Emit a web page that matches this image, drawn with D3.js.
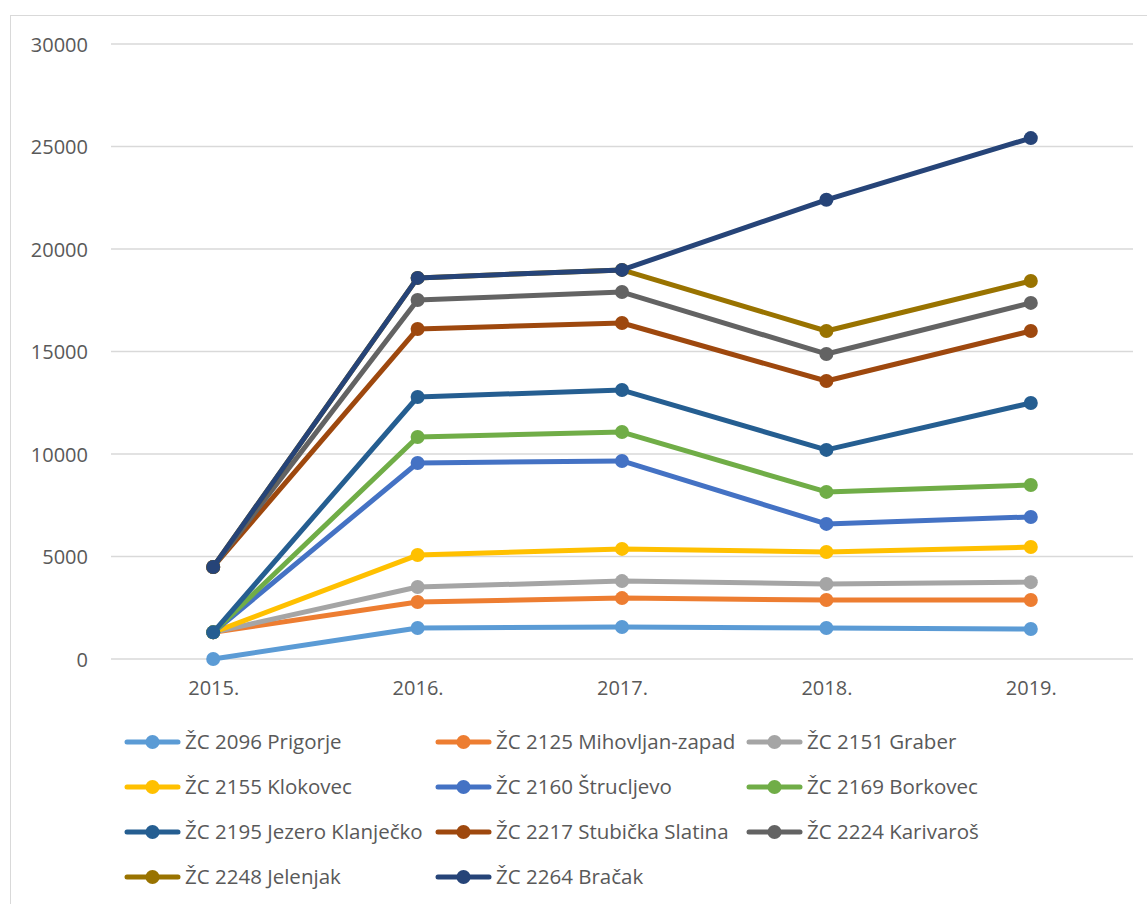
<!DOCTYPE html>
<html>
<head>
<meta charset="utf-8">
<script src="https://cdn.jsdelivr.net/npm/d3@7"></script>
<style>
	body { margin: 0; background: #fff; }
	svg text { font-family: "Open Sans", "Noto Sans", sans-serif; fill: #595959; }
</style>
</head>
<body>
<svg id="chart" width="1147" height="904"></svg>
<script>
const years = ['2015.', '2016.', '2017.', '2018.', '2019.'];
const yTicks = [0, 5000, 10000, 15000, 20000, 25000, 30000];
const seriesNames = [
	'ŽC 2096 Prigorje', 'ŽC 2125 Mihovljan-zapad', 'ŽC 2151 Graber',
	'ŽC 2155 Klokovec', 'ŽC 2160 Štrucljevo', 'ŽC 2169 Borkovec',
	'ŽC 2195 Jezero Klanječko', 'ŽC 2217 Stubička Slatina', 'ŽC 2224 Karivaroš',
	'ŽC 2248 Jelenjak', 'ŽC 2264 Bračak'
];
const seriesColors = [
	'#5B9BD5', '#ED7D31', '#A5A5A5', '#FFC000', '#4472C4', '#70AD47',
	'#255E91', '#9E480E', '#636363', '#997300', '#264478'
];
const prigorje = [0, 1510, 1560, 1510, 1460];
const mihovljan = [1300, 2780, 2970, 2880, 2880];
const graber = [1300, 3510, 3800, 3660, 3750];
const klokovec = [1300, 5070, 5370, 5220, 5460];
const strucljevo = [1300, 9560, 9660, 6590, 6930];
const borkovec = [1300, 10830, 11070, 8150, 8490];
const jezero = [1300, 12780, 13120, 10200, 12490];
const stubicka = [4490, 16100, 16390, 13560, 16000];
const karivaros = [4490, 17510, 17900, 14880, 17370];
const jelenjak = [4490, 18590, 18980, 16000, 18440];
const bracak = [4490, 18590, 18980, 22400, 25410];
const seriesValues = [prigorje, mihovljan, graber, klokovec, strucljevo, borkovec,
	jezero, stubicka, karivaros, jelenjak, bracak];

var svg = d3.select('#chart');
var plot = {left: 111, right: 1133, top: 44, bottom: 659};

// chart frame
svg.append('rect')
	.attr('x', 10.5).attr('y', 15.5)
	.attr('width', 1150).attr('height', 900)
	.attr('fill', 'none').attr('stroke', '#d9d9d9').attr('stroke-width', 1);

var x = d3.scalePoint().domain(years).range([plot.left, plot.right]).padding(0.5);
var y = d3.scaleLinear().domain([0, 30000]).range([plot.bottom, plot.top]);

// gridlines
svg.append('g')
	.selectAll('line')
	.data(yTicks)
	.enter()
	.append('line')
		.attr('x1', plot.left).attr('x2', plot.right)
		.attr('y1', d => y(d)).attr('y2', d => y(d))
		.attr('stroke', '#d9d9d9').attr('stroke-width', 1.3);

// y labels
var yAxis = svg.append('g')
	.attr('transform', 'translate(' + (plot.left - 23) + ',0)')
	.call(d3.axisLeft(y).tickValues(yTicks).tickFormat(d3.format('d')).tickSize(0).tickPadding(0));
yAxis.select('.domain').remove();
yAxis.selectAll('text').style('font-size', '20px').attr('dy', '0.35em');

// x labels
var xAxis = svg.append('g')
	.attr('transform', 'translate(0,' + (plot.bottom + 29) + ')')
	.call(d3.axisBottom(x).tickSize(0).tickPadding(0));
xAxis.select('.domain').remove();
xAxis.selectAll('text').style('font-size', '20px').attr('dy', '0.35em');

var line = d3.line()
	.x((d, i) => x(years[i]))
	.y(d => y(d));

seriesValues.forEach((vals, s) => {
	var g = svg.append('g');
	g.append('path')
		.datum(vals)
		.attr('d', line)
		.attr('fill', 'none')
		.attr('stroke', seriesColors[s])
		.attr('stroke-width', 5)
		.attr('stroke-linejoin', 'round');
	g.selectAll('circle')
		.data(vals)
		.enter()
		.append('circle')
			.attr('cx', (d, i) => x(years[i]))
			.attr('cy', d => y(d))
			.attr('r', 7)
			.attr('fill', seriesColors[s]);
});

// legend
var legend = svg.append('g');
seriesNames.forEach((name, i) => {
	var col = i % 3, row = Math.floor(i / 3);
	var lx = 127 + col * 311, ly = 742 + row * 45;
	var item = legend.append('g').attr('transform', 'translate(' + lx + ',' + ly + ')');
	item.append('line')
		.attr('x1', 0).attr('x2', 51).attr('y1', 0).attr('y2', 0)
		.attr('stroke', seriesColors[i]).attr('stroke-width', 5).attr('stroke-linecap', 'round');
	item.append('circle').attr('cx', 25.5).attr('cy', 0).attr('r', 7).attr('fill', seriesColors[i]);
	item.append('text')
		.attr('x', 58).attr('y', 0).attr('dy', '0.35em')
		.style('font-size', '20.5px')
		.text(name);
});
</script>
</body>
</html>
